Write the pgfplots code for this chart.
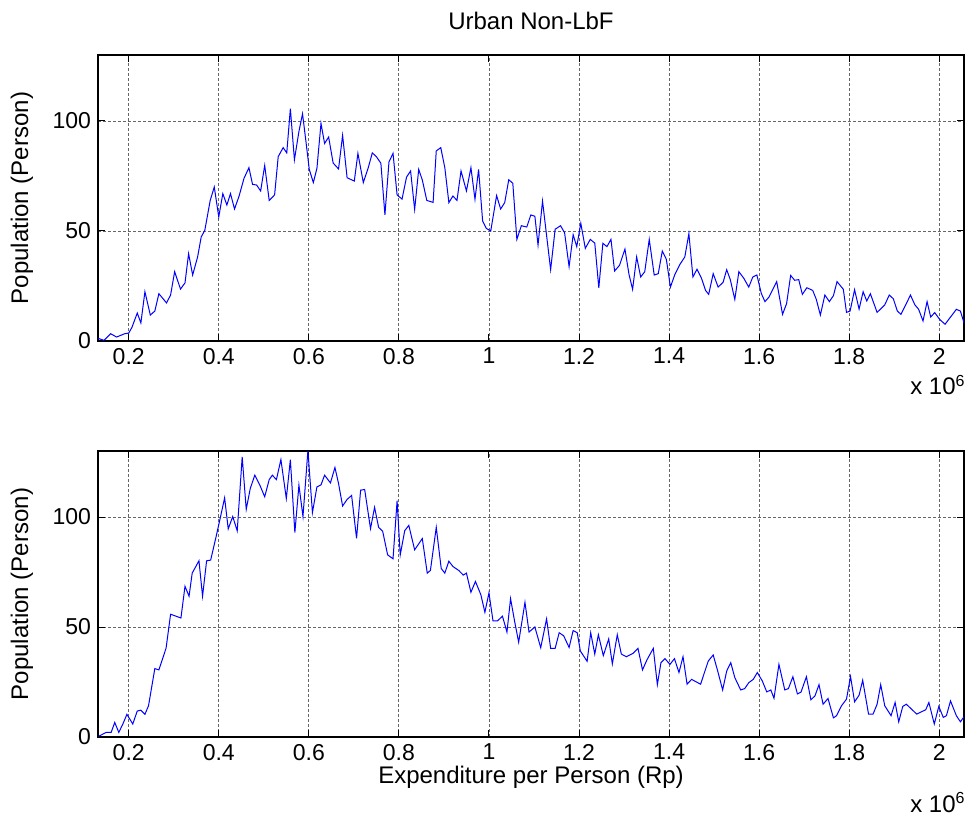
\documentclass[border=0pt]{standalone}
\usepackage{fontspec}
\setmainfont{Liberation Sans}
\usepackage{pgfplots}
\pgfplotsset{compat=1.18}

% one pixel of the reference = 0.5pt
\pgfplotsset{
  matpanel/.style={
    scale only axis, width=433pt, height=143pt,
    xmin=0.1318, xmax=2.055, ymin=0, ymax=130,
    xtick={0.2,0.4,0.6,0.8,1,1.2,1.4,1.6,1.8,2},
    ytick={0,50,100},
    /pgf/number format/assume math mode=true,
    tick align=inside, tick pos=both,
    major tick length=3.5pt,
    every tick/.style={black, line width=0.5pt},
    axis line style={black, line width=0.9pt},
    grid=major,
    major grid style={black!60, line width=0.4pt, dash pattern=on 1.5pt off 1pt},
    ticklabel style={font=\fontsize{11.5}{13}\selectfont},
    xticklabel style={yshift=0pt},
    ylabel={Population (Person)},
    ylabel style={at={(axis description cs:-0.0878,0.5)}, anchor=center},
  },
}

\begin{document}
\begin{tikzpicture}[font=\fontsize{12}{14}\selectfont]
\useasboundingbox (0,0) rectangle (484.5pt,-411.5pt);

\begin{axis}[matpanel, at={(49pt,-170.5pt)}, anchor=south west]
\addplot[blue, line width=0.5pt] coordinates {(0.132,1.2) (0.145,0.3) (0.160,3.3) (0.173,1.8) (0.191,3.3) (0.200,3.6) (0.207,6.1) (0.219,12.7) (0.227,8.2) (0.236,22.4) (0.248,11.8) (0.258,13.6) (0.267,21.5) (0.284,17.3) (0.293,20.9) (0.302,31.5) (0.315,23.6) (0.325,26.4) (0.333,39.7) (0.342,30) (0.353,38.2) (0.361,47.3) (0.369,50.3) (0.381,63.9) (0.390,70) (0.400,56.4) (0.409,67) (0.418,61.8) (0.426,67) (0.435,60) (0.445,65.8) (0.456,73.9) (0.467,78.8) (0.475,71.2) (0.484,70.9) (0.493,68.2) (0.502,79.8) (0.512,63.9) (0.524,66.4) (0.532,83.8) (0.543,87.9) (0.551,85.5) (0.559,105.6) (0.568,82.4) (0.578,95.2) (0.586,103.3) (0.593,91.7) (0.601,78) (0.610,72) (0.618,78.5) (0.627,98.9) (0.635,89.8) (0.644,92.7) (0.654,80.9) (0.666,78.2) (0.675,93.5) (0.685,74.2) (0.701,72.7) (0.709,85.3) (0.721,72) (0.732,78.8) (0.741,85.5) (0.750,83.8) (0.760,80.8) (0.769,57.3) (0.778,81.4) (0.787,85.3) (0.796,66.4) (0.807,64.5) (0.817,74.5) (0.826,77.3) (0.835,59.8) (0.844,78) (0.852,73.2) (0.862,63.9) (0.876,63) (0.883,86.4) (0.893,87.9) (0.902,78.8) (0.911,62.9) (0.920,65.9) (0.929,63.9) (0.938,77.3) (0.950,68.2) (0.960,78.8) (0.969,64.4) (0.977,78) (0.986,54.5) (0.994,51.2) (1.004,50) (1.017,66.1) (1.026,60) (1.035,62.9) (1.044,73.3) (1.053,71.7) (1.062,46.2) (1.072,52.4) (1.084,51.8) (1.093,57.3) (1.102,56.7) (1.109,43.6) (1.119,63.6) (1.137,32.4) (1.147,50.8) (1.159,52.4) (1.168,49.2) (1.178,33.8) (1.187,48.3) (1.195,42.9) (1.204,53.5) (1.214,42.1) (1.225,46.2) (1.235,44.5) (1.244,24.2) (1.253,44.4) (1.262,42.9) (1.271,46.2) (1.279,31.8) (1.290,34.4) (1.302,41.8) (1.311,30.3) (1.319,23.5) (1.328,38.2) (1.337,29.1) (1.346,31.5) (1.356,46.2) (1.367,30) (1.376,30.6) (1.385,40.9) (1.394,37.1) (1.403,24.5) (1.413,30.3) (1.424,34.8) (1.435,38.2) (1.444,48.8) (1.453,29.1) (1.462,32.6) (1.472,28.5) (1.481,23) (1.488,21.2) (1.498,30.6) (1.509,24.5) (1.520,26.7) (1.528,32.4) (1.536,27.9) (1.546,18.9) (1.555,31.5) (1.566,28.5) (1.577,24.5) (1.586,29.1) (1.595,30) (1.605,21.5) (1.613,17.9) (1.622,20) (1.639,27) (1.652,12.1) (1.661,17) (1.670,29.8) (1.679,27.6) (1.688,27.9) (1.696,21.2) (1.706,24.2) (1.719,23) (1.727,18.9) (1.736,11.8) (1.746,20.9) (1.756,17.9) (1.765,20.6) (1.773,27) (1.787,23.5) (1.794,13) (1.802,13.6) (1.812,23.3) (1.822,14.5) (1.831,22.4) (1.839,18.2) (1.847,21.5) (1.862,13) (1.879,16.4) (1.889,20.9) (1.898,19.2) (1.907,13.6) (1.915,12.1) (1.927,17) (1.936,20.9) (1.946,16.4) (1.954,14.5) (1.964,9.1) (1.973,17.9) (1.981,10.9) (1.990,12.9) (2.001,9.8) (2.013,7.6) (2.024,10.6) (2.038,14.4) (2.047,13.6) (2.056,7.6)};
\end{axis}

\begin{axis}[matpanel, at={(49pt,-368.5pt)}, anchor=south west,
  xlabel={Expenditure per Person (Rp)},
  xlabel style={at={(axis description cs:0.5,-0.14)}, anchor=center}]
\addplot[blue, line width=0.5pt] coordinates {(0.133,0.3) (0.150,2.1) (0.161,2.1) (0.169,6.6) (0.178,2.1) (0.187,5.9) (0.196,10.3) (0.209,5.9) (0.219,11.8) (0.227,12.2) (0.236,10.3) (0.244,14.2) (0.258,31.1) (0.267,30.5) (0.283,40.4) (0.293,55.8) (0.316,54.1) (0.325,68.5) (0.334,64) (0.341,74.5) (0.356,80.1) (0.364,64) (0.373,80.1) (0.382,80.4) (0.395,91.9) (0.404,100.2) (0.413,108.7) (0.421,94.6) (0.431,100.2) (0.441,93.7) (0.452,127.3) (0.461,103.5) (0.470,113) (0.480,119) (0.491,114.6) (0.502,109.2) (0.512,117) (0.519,119) (0.528,117) (0.538,126.1) (0.550,108.4) (0.559,126.1) (0.569,92.9) (0.578,114.5) (0.587,100.2) (0.598,130.3) (0.608,102) (0.618,113.7) (0.627,114.6) (0.635,119) (0.648,115.5) (0.658,122.5) (0.666,115.2) (0.675,105) (0.685,108) (0.695,109.8) (0.706,90.3) (0.715,112.2) (0.724,112.5) (0.737,94.7) (0.746,104.4) (0.755,95.3) (0.764,93.5) (0.775,82.8) (0.787,81) (0.796,107.4) (0.803,82.8) (0.813,93.8) (0.822,96.2) (0.835,85.1) (0.852,90.2) (0.863,74.5) (0.870,75.7) (0.883,95.3) (0.894,76.6) (0.902,74.5) (0.911,79.9) (0.920,77.5) (0.933,75.7) (0.943,73.6) (0.950,74.5) (0.960,65.8) (0.970,70.7) (0.982,64.7) (0.991,56.7) (1.000,65.5) (1.009,52.8) (1.019,52.8) (1.030,54.9) (1.040,47.7) (1.048,62.9) (1.057,52.6) (1.066,43.1) (1.080,61.2) (1.089,47.7) (1.102,50) (1.115,40.6) (1.128,53.7) (1.137,40.3) (1.147,40.3) (1.156,47.4) (1.166,46) (1.178,40.7) (1.187,48.4) (1.196,47.4) (1.203,39.1) (1.218,34.4) (1.226,47.4) (1.235,37.7) (1.243,46.5) (1.254,37) (1.266,44.6) (1.274,33.2) (1.285,46.5) (1.294,37.7) (1.305,36.5) (1.320,38) (1.331,40.3) (1.341,30.5) (1.351,35.1) (1.365,40.3) (1.374,23.8) (1.382,33.8) (1.391,35.6) (1.402,33) (1.412,35.6) (1.422,29.3) (1.431,36.5) (1.440,24) (1.450,26.2) (1.470,24) (1.487,34.5) (1.498,37.3) (1.508,30) (1.519,21.4) (1.528,30) (1.537,33.8) (1.546,27) (1.559,21.4) (1.568,22) (1.577,24.7) (1.587,26.2) (1.596,29.3) (1.607,25.5) (1.617,20.5) (1.626,21.4) (1.633,17.6) (1.644,33) (1.657,21.4) (1.665,22) (1.675,27.4) (1.685,19.6) (1.693,20.4) (1.705,27.4) (1.715,16.9) (1.724,18.7) (1.733,23.8) (1.742,14.9) (1.753,17.5) (1.765,8.7) (1.772,9.7) (1.783,14.2) (1.794,17.2) (1.803,27.5) (1.812,16) (1.822,19) (1.830,25.8) (1.843,10.4) (1.853,10.4) (1.862,14.9) (1.870,23.8) (1.879,14.2) (1.893,9.7) (1.902,15.7) (1.910,6.9) (1.919,13.9) (1.927,14.9) (1.950,10.4) (1.970,12.4) (1.977,15.7) (1.989,5.9) (1.999,13.9) (2.009,8.9) (2.016,9.7) (2.025,16.4) (2.038,9.7) (2.047,6.9) (2.055,9.2)};
\end{axis}

\node[anchor=base] at (265.5pt,-15pt) {Urban Non-LbF};
\node[anchor=base east, inner sep=0pt] at (483pt,-197.5pt) {x 10\textsuperscript{6}};
\node[anchor=base east, inner sep=0pt] at (483pt,-406pt) {x 10\textsuperscript{6}};
\end{tikzpicture}
\end{document}
